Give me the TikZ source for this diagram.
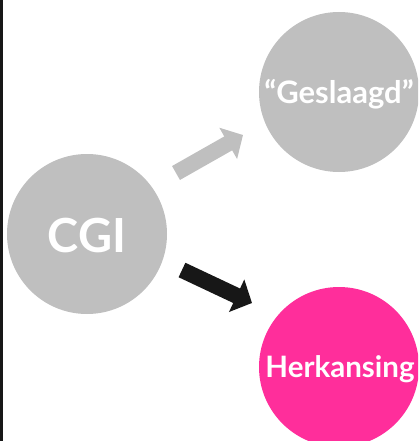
\documentclass[tikz,border=0pt]{standalone}
\usepackage{fontspec}
\setmainfont{Lato}
\usetikzlibrary{arrows.meta}
\definecolor{cgray}{HTML}{BFBFBF}
\definecolor{cpink}{HTML}{FF2E9B}
\definecolor{cblack}{HTML}{171717}
\tikzset{
  label text/.style={inner sep=0pt, text=white},
  fatarrow/.style={line width=16pt, -{Triangle[width=35pt,length=17pt]}},
}
\begin{document}
\begin{tikzpicture}[x=1pt,y=-1pt]
\useasboundingbox (0,0) rectangle (418,441);
\clip (0,0) rectangle (418,441);
\fill[cblack] (0,0) rectangle (2.5,441);
\fill[cgray] (87,234) circle[radius=80pt];
\fill[cgray] (339,92) circle[radius=80pt];
\fill[cpink] (339,367) circle[radius=80pt];
\node[label text, font=\bfseries\fontsize{47}{52}\selectfont] (cgi) at (87,236) {CGI};
\node[label text, font=\bfseries\fontsize{31}{36}\selectfont] (ges) at (339,94) {“Geslaagd”};
\node[label text, font=\bfseries\fontsize{29.5}{34}\selectfont] (her) at (340,369) {Herkansing};
\coordinate (a1s) at (176,173);
\coordinate (a1e) at (243,135);
\coordinate (a2s) at (182,270);
\coordinate (a2e) at (252,303);
\draw[fatarrow, cgray] (a1s) -- (a1e);
\draw[fatarrow, cblack] (a2s) -- (a2e);
\end{tikzpicture}
\end{document}
